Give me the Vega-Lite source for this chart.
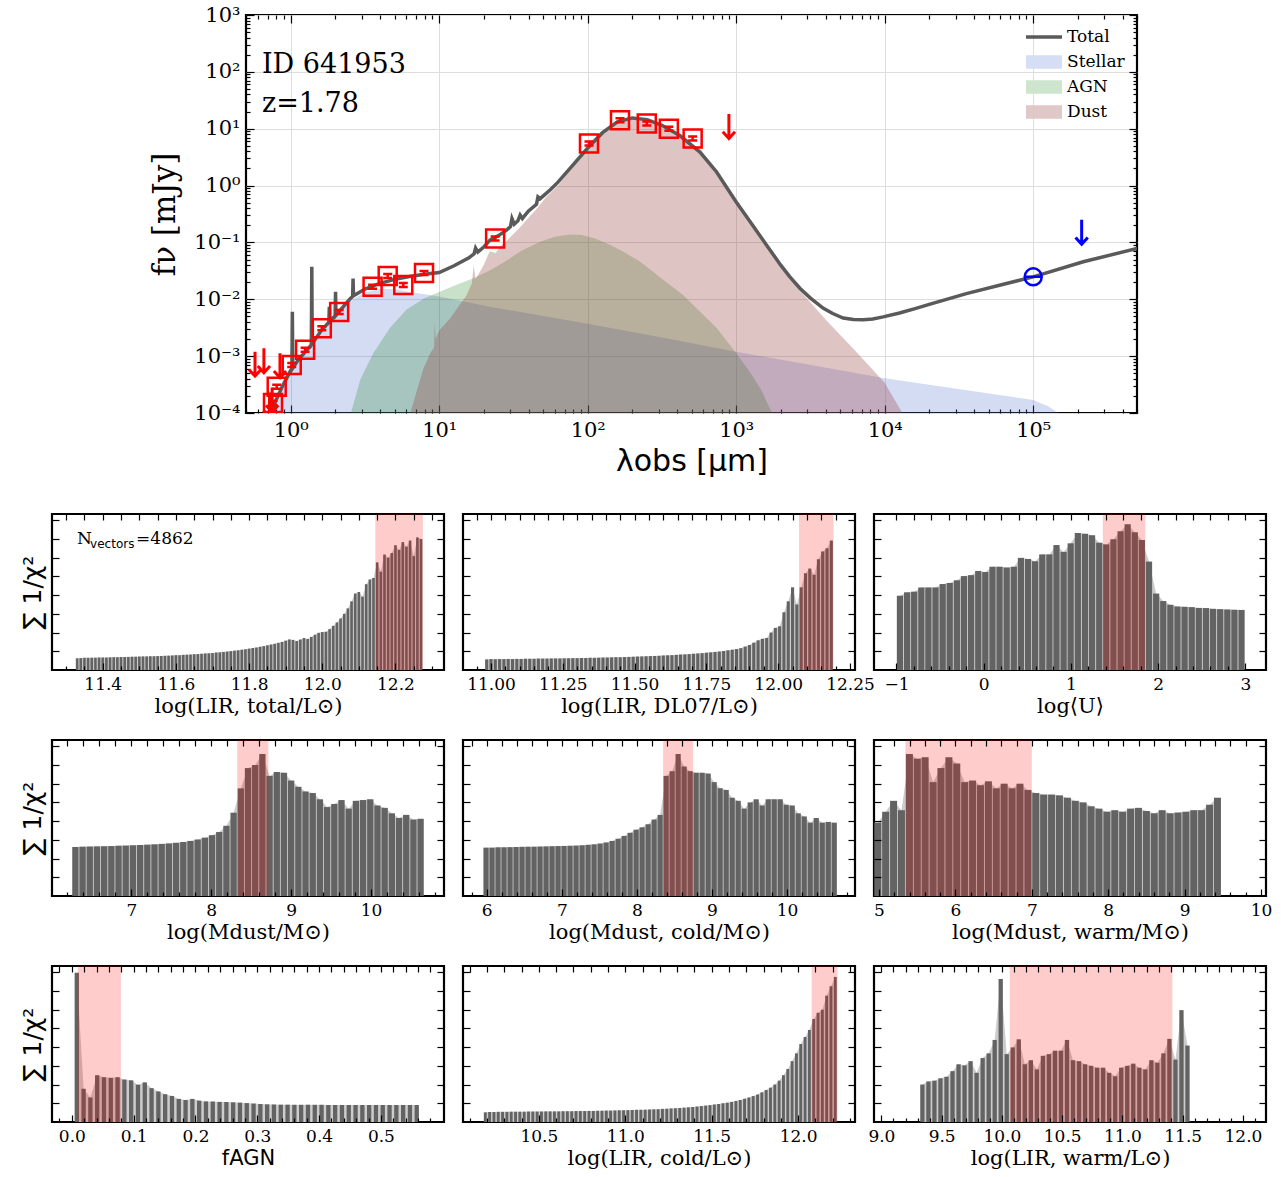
{
"$schema": "https://vega.github.io/schema/vega-lite/v6.json",
"padding": {"left": 19, "top": 2, "right": 5, "bottom": 2},
"background": "white",
"config": {
  "view": {"stroke": "#000000", "strokeWidth": 2.2},
  "axis": {"domain": false, "grid": false, "tickColor": "#000000", "tickWidth": 1.2, "labelColor": "#000000", "titleColor": "#000000", "labelFont": "DejaVu Serif", "titleFont": "DejaVu Serif", "titleFontWeight": "normal", "labelFlush": false, "labelOverlap": false}
},
"resolve": {"scale": {"color": "independent"}, "legend": {"color": "independent"}},
"datasets": {
  "stellar": [{"x":0.733,"y":0.0000891},{"x":0.794,"y":0.000166},{"x":0.891,"y":0.000316},{"x":1.0,"y":0.000562},{"x":1.122,"y":0.000832},{"x":1.259,"y":0.001175},{"x":1.413,"y":0.00174},{"x":1.585,"y":0.00263},{"x":1.995,"y":0.00501},{"x":2.512,"y":0.00955},{"x":3.162,"y":0.0132},{"x":3.981,"y":0.0151},{"x":5.012,"y":0.0151},{"x":6.31,"y":0.0135},{"x":7.943,"y":0.0123},{"x":10,"y":0.0112},{"x":21.88,"y":0.00741},{"x":100,"y":0.00372},{"x":263,"y":0.00234},{"x":1000,"y":0.0012},{"x":10000,"y":0.000407},{"x":100000,"y":0.00017},{"x":125900,"y":0.000132},{"x":158500,"y":0.0000891}],
  "agn": [{"x":2.512,"y":0.0000891},{"x":2.951,"y":0.000398},{"x":3.597,"y":0.001122},{"x":4.667,"y":0.00316},{"x":6.026,"y":0.00661},{"x":7.943,"y":0.01047},{"x":10,"y":0.01349},{"x":12.59,"y":0.01738},{"x":16.98,"y":0.02344},{"x":22.39,"y":0.0331},{"x":28.51,"y":0.0479},{"x":35.48,"y":0.0708},{"x":47.86,"y":0.1023},{"x":60.26,"y":0.1259},{"x":75.86,"y":0.138},{"x":91.2,"y":0.1349},{"x":112.2,"y":0.1175},{"x":141.3,"y":0.0912},{"x":173.8,"y":0.0684},{"x":223.9,"y":0.0468},{"x":291.7,"y":0.0269},{"x":354.8,"y":0.0182},{"x":440.6,"y":0.01175},{"x":562.3,"y":0.00631},{"x":741.3,"y":0.00309},{"x":955,"y":0.001318},{"x":1230,"y":0.000537},{"x":1479,"y":0.000251},{"x":1778,"y":0.0000891}],
  "dust": [{"x":6.31,"y":0.0000891},{"x":7.079,"y":0.000251},{"x":7.816,"y":0.000603},{"x":8.71,"y":0.001122},{"x":9.226,"y":0.001413},{"x":9.333,"y":0.00398},{"x":9.462,"y":0.002},{"x":10,"y":0.00282},{"x":11.83,"y":0.00457},{"x":14.13,"y":0.00891},{"x":15.31,"y":0.01175},{"x":16.6,"y":0.01905},{"x":17.06,"y":0.0398},{"x":17.58,"y":0.0224},{"x":19.95,"y":0.04},{"x":21.88,"y":0.07},{"x":23.99,"y":0.065},{"x":26.3,"y":0.09},{"x":28.84,"y":0.11},{"x":31.62,"y":0.14},{"x":34.67,"y":0.18},{"x":39.81,"y":0.27},{"x":45.71,"y":0.4},{"x":52.48,"y":0.63},{"x":63.1,"y":1.0},{"x":79.43,"y":2.1},{"x":100,"y":4.3},{"x":125.9,"y":8.3},{"x":158.5,"y":13.0},{"x":199.5,"y":15.3},{"x":251.2,"y":14.3},{"x":316.2,"y":11.4},{"x":416.9,"y":7.5},{"x":570.2,"y":3.8},{"x":738,"y":1.698},{"x":1000,"y":0.501},{"x":1585,"y":0.0891},{"x":2692,"y":0.01413},{"x":3981,"y":0.00447},{"x":6310,"y":0.00126},{"x":10000,"y":0.000339},{"x":13490,"y":0.0000891}],
  "total": [{"x":0.733,"y":0.0000891},{"x":0.794,"y":0.000166},{"x":0.891,"y":0.000316},{"x":1.0,"y":0.000562},{"x":1.019,"y":0.000589},{"x":1.026,"y":0.00603},{"x":1.033,"y":0.000617},{"x":1.122,"y":0.000851},{"x":1.259,"y":0.0012},{"x":1.377,"y":0.001585},{"x":1.387,"y":0.0372},{"x":1.396,"y":0.00166},{"x":1.585,"y":0.00269},{"x":1.807,"y":0.00398},{"x":1.82,"y":0.00741},{"x":1.832,"y":0.00407},{"x":1.991,"y":0.00513},{"x":2.004,"y":0.0135},{"x":2.018,"y":0.00525},{"x":2.239,"y":0.00724},{"x":2.512,"y":0.0102},{"x":2.612,"y":0.0112},{"x":2.63,"y":0.0232},{"x":2.649,"y":0.0115},{"x":3.162,"y":0.0151},{"x":3.981,"y":0.0191},{"x":5.012,"y":0.0224},{"x":6.31,"y":0.0251},{"x":7.943,"y":0.0275},{"x":10,"y":0.0295},{"x":12.59,"y":0.0389},{"x":15.85,"y":0.0537},{"x":17.18,"y":0.0631},{"x":17.58,"y":0.0794},{"x":18.2,"y":0.0676},{"x":19.95,"y":0.0832},{"x":21.98,"y":0.1096},{"x":25.12,"y":0.1318},{"x":28.51,"y":0.166},{"x":30.2,"y":0.1905},{"x":30.9,"y":0.263},{"x":31.99,"y":0.209},{"x":33.88,"y":0.24},{"x":35.08,"y":0.302},{"x":36.31,"y":0.263},{"x":39.81,"y":0.355},{"x":45.19,"y":0.468},{"x":46.24,"y":0.631},{"x":47.86,"y":0.589},{"x":56.23,"y":0.851},{"x":63.1,"y":1.148},{"x":79.43,"y":2.291},{"x":100,"y":4.571},{"x":125.9,"y":8.511},{"x":158.5,"y":13.18},{"x":199.5,"y":15.49},{"x":251.2,"y":14.45},{"x":316.2,"y":11.48},{"x":416.9,"y":7.586},{"x":570.2,"y":3.89},{"x":738,"y":1.738},{"x":1000,"y":0.513},{"x":1259,"y":0.2188},{"x":1585,"y":0.0933},{"x":1995,"y":0.0398},{"x":2291,"y":0.0251},{"x":2692,"y":0.0155},{"x":3162,"y":0.01047},{"x":3864,"y":0.00692},{"x":4467,"y":0.00562},{"x":5248,"y":0.00468},{"x":6166,"y":0.00442},{"x":7178,"y":0.00437},{"x":8318,"y":0.00452},{"x":9772,"y":0.0049},{"x":12590,"y":0.00575},{"x":16220,"y":0.00692},{"x":19950,"y":0.00813},{"x":35480,"y":0.0126},{"x":63100,"y":0.0184},{"x":100000,"y":0.0248},{"x":217300,"y":0.0457},{"x":501200,"y":0.0785}],
  "obs": [{"x":0.76,"y":0.00015},{"x":0.805,"y":0.00029},{"x":1.016,"y":0.0007},{"x":1.25,"y":0.0013},{"x":1.62,"y":0.0031},{"x":2.12,"y":0.006},{"x":3.56,"y":0.0166},{"x":4.5,"y":0.0257},{"x":5.73,"y":0.0178},{"x":7.9,"y":0.029},{"x":23.8,"y":0.117},{"x":102,"y":5.5},{"x":165,"y":14.1},{"x":250,"y":12.3},{"x":352,"y":10.0},{"x":509,"y":6.7}],
  "ulim": [{"x":0.575,"y":0.0012},{"x":0.66,"y":0.00138},{"x":0.847,"y":0.00112},{"x":0.72,"y":0.00023},{"x":0.75,"y":0.00028},{"x":893,"y":18.2}],
  "radio": [{"x":100000,"y":0.0248}],
  "radiolim": [{"x":212000,"y":0.25}],
  "p1": [{"x":11.33,"y":0.075},{"x":11.34,"y":0.076},{"x":11.35,"y":0.078},{"x":11.36,"y":0.078},{"x":11.37,"y":0.079},{"x":11.38,"y":0.079},{"x":11.39,"y":0.080},{"x":11.40,"y":0.080},{"x":11.41,"y":0.080},{"x":11.42,"y":0.081},{"x":11.43,"y":0.082},{"x":11.44,"y":0.082},{"x":11.45,"y":0.083},{"x":11.46,"y":0.083},{"x":11.47,"y":0.084},{"x":11.48,"y":0.085},{"x":11.49,"y":0.085},{"x":11.50,"y":0.086},{"x":11.51,"y":0.087},{"x":11.52,"y":0.087},{"x":11.53,"y":0.088},{"x":11.54,"y":0.088},{"x":11.55,"y":0.089},{"x":11.56,"y":0.090},{"x":11.57,"y":0.091},{"x":11.58,"y":0.092},{"x":11.59,"y":0.093},{"x":11.60,"y":0.095},{"x":11.61,"y":0.095},{"x":11.62,"y":0.097},{"x":11.63,"y":0.098},{"x":11.64,"y":0.099},{"x":11.65,"y":0.101},{"x":11.66,"y":0.102},{"x":11.67,"y":0.104},{"x":11.68,"y":0.106},{"x":11.69,"y":0.107},{"x":11.70,"y":0.109},{"x":11.71,"y":0.112},{"x":11.72,"y":0.113},{"x":11.73,"y":0.116},{"x":11.74,"y":0.118},{"x":11.75,"y":0.121},{"x":11.76,"y":0.124},{"x":11.77,"y":0.126},{"x":11.78,"y":0.130},{"x":11.79,"y":0.133},{"x":11.80,"y":0.137},{"x":11.81,"y":0.141},{"x":11.82,"y":0.144},{"x":11.83,"y":0.149},{"x":11.84,"y":0.153},{"x":11.85,"y":0.158},{"x":11.86,"y":0.163},{"x":11.87,"y":0.168},{"x":11.88,"y":0.174},{"x":11.89,"y":0.180},{"x":11.90,"y":0.188},{"x":11.91,"y":0.196},{"x":11.92,"y":0.193},{"x":11.93,"y":0.186},{"x":11.94,"y":0.195},{"x":11.95,"y":0.205},{"x":11.96,"y":0.199},{"x":11.97,"y":0.212},{"x":11.98,"y":0.226},{"x":11.99,"y":0.238},{"x":12.00,"y":0.243},{"x":12.01,"y":0.245},{"x":12.02,"y":0.262},{"x":12.03,"y":0.283},{"x":12.04,"y":0.305},{"x":12.05,"y":0.33},{"x":12.06,"y":0.36},{"x":12.07,"y":0.395},{"x":12.08,"y":0.44},{"x":12.09,"y":0.49},{"x":12.10,"y":0.50},{"x":12.11,"y":0.47},{"x":12.12,"y":0.55},{"x":12.13,"y":0.58},{"x":12.14,"y":0.59},{"x":12.15,"y":0.69},{"x":12.16,"y":0.63},{"x":12.17,"y":0.74},{"x":12.18,"y":0.72},{"x":12.19,"y":0.75},{"x":12.20,"y":0.80},{"x":12.21,"y":0.77},{"x":12.22,"y":0.82},{"x":12.23,"y":0.79},{"x":12.24,"y":0.83},{"x":12.25,"y":0.73},{"x":12.26,"y":0.85},{"x":12.27,"y":0.84}],
  "p2": [{"x":10.985,"y":0.068},{"x":11.0,"y":0.070},{"x":11.015,"y":0.069},{"x":11.03,"y":0.070},{"x":11.045,"y":0.070},{"x":11.06,"y":0.071},{"x":11.075,"y":0.070},{"x":11.09,"y":0.071},{"x":11.105,"y":0.071},{"x":11.12,"y":0.072},{"x":11.135,"y":0.072},{"x":11.15,"y":0.072},{"x":11.165,"y":0.073},{"x":11.18,"y":0.073},{"x":11.195,"y":0.073},{"x":11.21,"y":0.074},{"x":11.225,"y":0.074},{"x":11.24,"y":0.074},{"x":11.255,"y":0.075},{"x":11.27,"y":0.075},{"x":11.285,"y":0.076},{"x":11.3,"y":0.076},{"x":11.315,"y":0.077},{"x":11.33,"y":0.077},{"x":11.345,"y":0.078},{"x":11.36,"y":0.078},{"x":11.375,"y":0.079},{"x":11.39,"y":0.080},{"x":11.405,"y":0.080},{"x":11.42,"y":0.081},{"x":11.435,"y":0.082},{"x":11.45,"y":0.082},{"x":11.465,"y":0.083},{"x":11.48,"y":0.084},{"x":11.495,"y":0.085},{"x":11.51,"y":0.086},{"x":11.525,"y":0.087},{"x":11.54,"y":0.088},{"x":11.555,"y":0.089},{"x":11.57,"y":0.090},{"x":11.585,"y":0.091},{"x":11.6,"y":0.093},{"x":11.615,"y":0.094},{"x":11.63,"y":0.095},{"x":11.645,"y":0.097},{"x":11.66,"y":0.099},{"x":11.675,"y":0.100},{"x":11.69,"y":0.102},{"x":11.705,"y":0.104},{"x":11.72,"y":0.106},{"x":11.735,"y":0.108},{"x":11.75,"y":0.111},{"x":11.765,"y":0.113},{"x":11.78,"y":0.116},{"x":11.795,"y":0.119},{"x":11.81,"y":0.122},{"x":11.825,"y":0.126},{"x":11.84,"y":0.130},{"x":11.855,"y":0.134},{"x":11.87,"y":0.14},{"x":11.885,"y":0.15},{"x":11.9,"y":0.16},{"x":11.915,"y":0.175},{"x":11.93,"y":0.19},{"x":11.945,"y":0.20},{"x":11.96,"y":0.205},{"x":11.975,"y":0.24},{"x":11.99,"y":0.27},{"x":12.005,"y":0.28},{"x":12.02,"y":0.37},{"x":12.035,"y":0.44},{"x":12.05,"y":0.53},{"x":12.065,"y":0.42},{"x":12.08,"y":0.53},{"x":12.095,"y":0.62},{"x":12.11,"y":0.65},{"x":12.125,"y":0.61},{"x":12.14,"y":0.71},{"x":12.155,"y":0.76},{"x":12.17,"y":0.78},{"x":12.185,"y":0.83}],
  "p3": [{"x":-0.96,"y":0.476},{"x":-0.878,"y":0.498},{"x":-0.797,"y":0.502},{"x":-0.715,"y":0.529},{"x":-0.634,"y":0.529},{"x":-0.552,"y":0.529},{"x":-0.47,"y":0.551},{"x":-0.389,"y":0.558},{"x":-0.307,"y":0.575},{"x":-0.226,"y":0.602},{"x":-0.144,"y":0.608},{"x":-0.062,"y":0.635},{"x":0.019,"y":0.628},{"x":0.101,"y":0.662},{"x":0.182,"y":0.662},{"x":0.264,"y":0.657},{"x":0.346,"y":0.662},{"x":0.427,"y":0.719},{"x":0.509,"y":0.712},{"x":0.59,"y":0.697},{"x":0.672,"y":0.741},{"x":0.754,"y":0.741},{"x":0.835,"y":0.801},{"x":0.917,"y":0.757},{"x":0.998,"y":0.812},{"x":1.08,"y":0.878},{"x":1.162,"y":0.874},{"x":1.243,"y":0.863},{"x":1.325,"y":0.816},{"x":1.406,"y":0.805},{"x":1.488,"y":0.838},{"x":1.57,"y":0.889},{"x":1.651,"y":0.934},{"x":1.733,"y":0.883},{"x":1.814,"y":0.834},{"x":1.896,"y":0.695},{"x":1.978,"y":0.49},{"x":2.059,"y":0.442},{"x":2.141,"y":0.418},{"x":2.222,"y":0.407},{"x":2.304,"y":0.405},{"x":2.386,"y":0.403},{"x":2.467,"y":0.398},{"x":2.549,"y":0.397},{"x":2.63,"y":0.392},{"x":2.712,"y":0.39},{"x":2.794,"y":0.388},{"x":2.875,"y":0.386},{"x":2.957,"y":0.385}],
  "p4": [{"x":6.30,"y":0.314},{"x":6.39,"y":0.316},{"x":6.48,"y":0.317},{"x":6.57,"y":0.318},{"x":6.66,"y":0.319},{"x":6.75,"y":0.320},{"x":6.84,"y":0.322},{"x":6.93,"y":0.323},{"x":7.02,"y":0.325},{"x":7.11,"y":0.327},{"x":7.20,"y":0.329},{"x":7.29,"y":0.331},{"x":7.38,"y":0.334},{"x":7.47,"y":0.337},{"x":7.56,"y":0.341},{"x":7.65,"y":0.346},{"x":7.74,"y":0.353},{"x":7.83,"y":0.362},{"x":7.92,"y":0.374},{"x":8.01,"y":0.39},{"x":8.10,"y":0.41},{"x":8.19,"y":0.45},{"x":8.28,"y":0.534},{"x":8.37,"y":0.69},{"x":8.46,"y":0.82},{"x":8.55,"y":0.84},{"x":8.64,"y":0.91},{"x":8.73,"y":0.77},{"x":8.82,"y":0.795},{"x":8.91,"y":0.79},{"x":9.00,"y":0.74},{"x":9.09,"y":0.70},{"x":9.18,"y":0.67},{"x":9.27,"y":0.66},{"x":9.36,"y":0.62},{"x":9.45,"y":0.57},{"x":9.54,"y":0.59},{"x":9.63,"y":0.615},{"x":9.72,"y":0.56},{"x":9.81,"y":0.61},{"x":9.90,"y":0.615},{"x":9.99,"y":0.62},{"x":10.08,"y":0.58},{"x":10.17,"y":0.565},{"x":10.26,"y":0.53},{"x":10.35,"y":0.50},{"x":10.44,"y":0.52},{"x":10.53,"y":0.49},{"x":10.62,"y":0.495}],
  "p5": [{"x":5.99,"y":0.31},{"x":6.07,"y":0.31},{"x":6.15,"y":0.312},{"x":6.23,"y":0.312},{"x":6.31,"y":0.313},{"x":6.39,"y":0.314},{"x":6.47,"y":0.315},{"x":6.55,"y":0.316},{"x":6.63,"y":0.316},{"x":6.71,"y":0.317},{"x":6.79,"y":0.318},{"x":6.87,"y":0.319},{"x":6.95,"y":0.320},{"x":7.03,"y":0.321},{"x":7.11,"y":0.322},{"x":7.19,"y":0.323},{"x":7.27,"y":0.325},{"x":7.35,"y":0.328},{"x":7.43,"y":0.331},{"x":7.51,"y":0.336},{"x":7.59,"y":0.343},{"x":7.67,"y":0.353},{"x":7.75,"y":0.367},{"x":7.83,"y":0.385},{"x":7.91,"y":0.405},{"x":7.99,"y":0.425},{"x":8.07,"y":0.44},{"x":8.15,"y":0.46},{"x":8.23,"y":0.49},{"x":8.31,"y":0.52},{"x":8.39,"y":0.77},{"x":8.47,"y":0.80},{"x":8.55,"y":0.91},{"x":8.63,"y":0.83},{"x":8.71,"y":0.80},{"x":8.79,"y":0.79},{"x":8.87,"y":0.79},{"x":8.95,"y":0.785},{"x":9.03,"y":0.73},{"x":9.11,"y":0.69},{"x":9.19,"y":0.68},{"x":9.27,"y":0.63},{"x":9.35,"y":0.61},{"x":9.43,"y":0.56},{"x":9.51,"y":0.60},{"x":9.59,"y":0.62},{"x":9.67,"y":0.58},{"x":9.75,"y":0.62},{"x":9.83,"y":0.62},{"x":9.91,"y":0.62},{"x":9.99,"y":0.585},{"x":10.07,"y":0.58},{"x":10.15,"y":0.53},{"x":10.23,"y":0.51},{"x":10.31,"y":0.47},{"x":10.39,"y":0.50},{"x":10.47,"y":0.47},{"x":10.55,"y":0.475},{"x":10.63,"y":0.47}],
  "p6": [{"x":4.984,"y":0.47},{"x":5.087,"y":0.54},{"x":5.191,"y":0.61},{"x":5.294,"y":0.55},{"x":5.398,"y":0.91},{"x":5.501,"y":0.88},{"x":5.604,"y":0.89},{"x":5.708,"y":0.73},{"x":5.811,"y":0.82},{"x":5.915,"y":0.89},{"x":6.018,"y":0.85},{"x":6.121,"y":0.73},{"x":6.225,"y":0.74},{"x":6.328,"y":0.71},{"x":6.432,"y":0.735},{"x":6.535,"y":0.69},{"x":6.638,"y":0.72},{"x":6.742,"y":0.69},{"x":6.845,"y":0.72},{"x":6.949,"y":0.68},{"x":7.052,"y":0.66},{"x":7.155,"y":0.65},{"x":7.259,"y":0.65},{"x":7.362,"y":0.645},{"x":7.466,"y":0.63},{"x":7.569,"y":0.61},{"x":7.672,"y":0.60},{"x":7.776,"y":0.575},{"x":7.879,"y":0.56},{"x":7.983,"y":0.54},{"x":8.086,"y":0.55},{"x":8.189,"y":0.54},{"x":8.293,"y":0.56},{"x":8.396,"y":0.565},{"x":8.5,"y":0.545},{"x":8.603,"y":0.53},{"x":8.706,"y":0.55},{"x":8.81,"y":0.53},{"x":8.913,"y":0.535},{"x":9.017,"y":0.54},{"x":9.12,"y":0.55},{"x":9.223,"y":0.55},{"x":9.327,"y":0.585},{"x":9.43,"y":0.63}],
  "p7": [{"x":0.008,"y":0.957},{"x":0.019,"y":0.213},{"x":0.030,"y":0.157},{"x":0.041,"y":0.30},{"x":0.052,"y":0.287},{"x":0.063,"y":0.283},{"x":0.074,"y":0.287},{"x":0.085,"y":0.272},{"x":0.096,"y":0.267},{"x":0.107,"y":0.239},{"x":0.118,"y":0.254},{"x":0.129,"y":0.217},{"x":0.140,"y":0.196},{"x":0.151,"y":0.178},{"x":0.162,"y":0.167},{"x":0.173,"y":0.148},{"x":0.184,"y":0.141},{"x":0.195,"y":0.148},{"x":0.206,"y":0.137},{"x":0.217,"y":0.132},{"x":0.228,"y":0.131},{"x":0.239,"y":0.129},{"x":0.250,"y":0.128},{"x":0.261,"y":0.126},{"x":0.272,"y":0.124},{"x":0.283,"y":0.121},{"x":0.294,"y":0.118},{"x":0.305,"y":0.115},{"x":0.316,"y":0.113},{"x":0.327,"y":0.112},{"x":0.338,"y":0.111},{"x":0.349,"y":0.111},{"x":0.360,"y":0.110},{"x":0.371,"y":0.110},{"x":0.382,"y":0.110},{"x":0.393,"y":0.110},{"x":0.404,"y":0.110},{"x":0.415,"y":0.109},{"x":0.426,"y":0.109},{"x":0.437,"y":0.109},{"x":0.448,"y":0.109},{"x":0.459,"y":0.109},{"x":0.470,"y":0.109},{"x":0.481,"y":0.109},{"x":0.492,"y":0.109},{"x":0.503,"y":0.109},{"x":0.514,"y":0.109},{"x":0.525,"y":0.109},{"x":0.536,"y":0.109},{"x":0.547,"y":0.109},{"x":0.558,"y":0.109}],
  "p8": [{"x":10.19,"y":0.062},{"x":10.215,"y":0.064},{"x":10.24,"y":0.064},{"x":10.265,"y":0.065},{"x":10.29,"y":0.065},{"x":10.315,"y":0.065},{"x":10.34,"y":0.066},{"x":10.365,"y":0.066},{"x":10.39,"y":0.066},{"x":10.415,"y":0.066},{"x":10.44,"y":0.067},{"x":10.465,"y":0.067},{"x":10.49,"y":0.067},{"x":10.515,"y":0.067},{"x":10.54,"y":0.068},{"x":10.565,"y":0.068},{"x":10.59,"y":0.068},{"x":10.615,"y":0.068},{"x":10.64,"y":0.069},{"x":10.665,"y":0.069},{"x":10.69,"y":0.069},{"x":10.715,"y":0.070},{"x":10.74,"y":0.070},{"x":10.765,"y":0.070},{"x":10.79,"y":0.071},{"x":10.815,"y":0.071},{"x":10.84,"y":0.072},{"x":10.865,"y":0.072},{"x":10.89,"y":0.073},{"x":10.915,"y":0.073},{"x":10.94,"y":0.074},{"x":10.965,"y":0.075},{"x":10.99,"y":0.075},{"x":11.015,"y":0.076},{"x":11.04,"y":0.077},{"x":11.065,"y":0.078},{"x":11.09,"y":0.078},{"x":11.115,"y":0.079},{"x":11.14,"y":0.080},{"x":11.165,"y":0.081},{"x":11.19,"y":0.082},{"x":11.215,"y":0.084},{"x":11.24,"y":0.085},{"x":11.265,"y":0.087},{"x":11.29,"y":0.088},{"x":11.315,"y":0.090},{"x":11.34,"y":0.092},{"x":11.365,"y":0.094},{"x":11.39,"y":0.096},{"x":11.415,"y":0.099},{"x":11.44,"y":0.102},{"x":11.465,"y":0.105},{"x":11.49,"y":0.108},{"x":11.515,"y":0.112},{"x":11.54,"y":0.116},{"x":11.565,"y":0.120},{"x":11.59,"y":0.124},{"x":11.615,"y":0.129},{"x":11.64,"y":0.135},{"x":11.665,"y":0.141},{"x":11.69,"y":0.149},{"x":11.715,"y":0.157},{"x":11.74,"y":0.166},{"x":11.765,"y":0.176},{"x":11.79,"y":0.19},{"x":11.815,"y":0.205},{"x":11.84,"y":0.22},{"x":11.865,"y":0.24},{"x":11.89,"y":0.265},{"x":11.915,"y":0.30},{"x":11.94,"y":0.34},{"x":11.965,"y":0.39},{"x":11.99,"y":0.44},{"x":12.015,"y":0.50},{"x":12.04,"y":0.545},{"x":12.065,"y":0.59},{"x":12.09,"y":0.66},{"x":12.115,"y":0.70},{"x":12.14,"y":0.72},{"x":12.165,"y":0.81},{"x":12.19,"y":0.87},{"x":12.215,"y":0.93}],
  "p9": [{"x":9.34,"y":0.24},{"x":9.39,"y":0.26},{"x":9.44,"y":0.265},{"x":9.49,"y":0.28},{"x":9.54,"y":0.29},{"x":9.59,"y":0.326},{"x":9.64,"y":0.37},{"x":9.69,"y":0.363},{"x":9.74,"y":0.39},{"x":9.79,"y":0.315},{"x":9.84,"y":0.41},{"x":9.89,"y":0.44},{"x":9.94,"y":0.526},{"x":9.99,"y":0.917},{"x":10.04,"y":0.435},{"x":10.09,"y":0.478},{"x":10.14,"y":0.53},{"x":10.19,"y":0.37},{"x":10.24,"y":0.396},{"x":10.29,"y":0.337},{"x":10.34,"y":0.424},{"x":10.39,"y":0.435},{"x":10.44,"y":0.457},{"x":10.49,"y":0.457},{"x":10.54,"y":0.526},{"x":10.59,"y":0.396},{"x":10.64,"y":0.39},{"x":10.69,"y":0.37},{"x":10.74,"y":0.36},{"x":10.79,"y":0.348},{"x":10.84,"y":0.348},{"x":10.89,"y":0.315},{"x":10.94,"y":0.293},{"x":10.99,"y":0.348},{"x":11.04,"y":0.36},{"x":11.09,"y":0.374},{"x":11.14,"y":0.348},{"x":11.19,"y":0.337},{"x":11.24,"y":0.396},{"x":11.29,"y":0.38},{"x":11.34,"y":0.44},{"x":11.39,"y":0.533},{"x":11.44,"y":0.40},{"x":11.49,"y":0.717},{"x":11.54,"y":0.49}]
},
"spacing": 34,
"vconcat": [
  {
    "spacing": 0,
    "resolve": {"scale": {"color": "independent"}, "legend": {"color": "independent"}},
    "hconcat": [
      {"width": 96, "height": 10, "data": {"values": []}, "mark": {"type": "point", "opacity": 0}, "view": {"stroke": null}},
      {
        "width": 891, "height": 398,
        "layer": [
          {"data": {"name": "stellar"}, "mark": {"type": "area", "color": "#5373d3", "fillOpacity": 0.25, "clip": true},
           "encoding": {
             "x": {"field": "x", "type": "quantitative", "scale": {"type": "log", "domain": [0.5, 500000], "nice": false},
               "axis": {"orient": "bottom", "values": [1,10,100,1000,10000,100000], "labelExpr": "'10' + (datum.value < 1.5 ? '⁰' : datum.value < 15 ? '¹' : datum.value < 150 ? '²' : datum.value < 1500 ? '³' : datum.value < 15000 ? '⁴' : '⁵')", "grid": true, "gridColor": "#dddddd", "gridWidth": 1, "tickSize": -8, "labelPadding": 14, "labelFontSize": 21, "title": "λobs [μm]", "titleFont": "DejaVu Sans", "titleFontSize": 30, "titlePadding": 6}},
             "y": {"field": "y", "type": "quantitative", "scale": {"type": "log", "domain": [0.0001, 1000], "nice": false},
               "axis": {"orient": "left", "values": [0.0001,0.001,0.01,0.1,1,10,100,1000], "labelExpr": "'10' + (datum.value < 0.0002 ? '⁻⁴' : datum.value < 0.002 ? '⁻³' : datum.value < 0.02 ? '⁻²' : datum.value < 0.2 ? '⁻¹' : datum.value < 2 ? '⁰' : datum.value < 20 ? '¹' : datum.value < 200 ? '²' : '³')", "grid": true, "gridColor": "#dddddd", "gridWidth": 1, "tickSize": -8, "labelPadding": 14, "labelFontSize": 21, "title": "fν [mJy]", "titleFontSize": 31, "titlePadding": 12}},
             "y2": {"datum": 0.0001}
           }},
          {"data": {"name": "agn"}, "mark": {"type": "area", "color": "#057705", "fillOpacity": 0.22, "clip": true},
           "encoding": {
             "x": {"field": "x", "type": "quantitative", "axis": {"orient": "bottom", "values": [0.5,0.6,0.7,0.8,0.9,2,3,4,5,6,7,8,9,20,30,40,50,60,70,80,90,200,300,400,500,600,700,800,900,2000,3000,4000,5000,6000,7000,8000,9000,20000,30000,40000,50000,60000,70000,80000,90000,200000,300000,400000,500000], "labels": false, "title": null, "tickSize": -4}},
             "y": {"field": "y", "type": "quantitative", "axis": {"orient": "left", "values": [0.0002,0.0003,0.0004,0.0005,0.0006,0.0007,0.0008,0.0009,0.002,0.003,0.004,0.005,0.006,0.007,0.008,0.009,0.02,0.03,0.04,0.05,0.06,0.07,0.08,0.09,0.2,0.3,0.4,0.5,0.6,0.7,0.8,0.9,2,3,4,5,6,7,8,9,20,30,40,50,60,70,80,90,200,300,400,500,600,700,800,900], "labels": false, "title": null, "tickSize": -4}},
             "y2": {"datum": 0.0001}
           }},
          {"data": {"name": "dust"}, "mark": {"type": "area", "color": "#943a3a", "fillOpacity": 0.3, "clip": true},
           "encoding": {
             "x": {"field": "x", "type": "quantitative", "axis": {"orient": "top", "values": [1,10,100,1000,10000,100000], "labels": false, "title": null, "tickSize": -8}},
             "y": {"field": "y", "type": "quantitative", "axis": {"orient": "right", "values": [0.0001,0.001,0.01,0.1,1,10,100,1000], "labels": false, "title": null, "tickSize": -8}},
             "y2": {"datum": 0.0001}
           }},
          {"data": {"name": "total"}, "mark": {"type": "line", "color": "#5a5a5a", "strokeWidth": 3.5, "clip": true},
           "encoding": {
             "x": {"field": "x", "type": "quantitative", "axis": {"orient": "top", "values": [0.5,0.6,0.7,0.8,0.9,2,3,4,5,6,7,8,9,20,30,40,50,60,70,80,90,200,300,400,500,600,700,800,900,2000,3000,4000,5000,6000,7000,8000,9000,20000,30000,40000,50000,60000,70000,80000,90000,200000,300000,400000,500000], "labels": false, "title": null, "tickSize": -4}},
             "y": {"field": "y", "type": "quantitative", "axis": {"orient": "right", "values": [0.0002,0.0003,0.0004,0.0005,0.0006,0.0007,0.0008,0.0009,0.002,0.003,0.004,0.005,0.006,0.007,0.008,0.009,0.02,0.03,0.04,0.05,0.06,0.07,0.08,0.09,0.2,0.3,0.4,0.5,0.6,0.7,0.8,0.9,2,3,4,5,6,7,8,9,20,30,40,50,60,70,80,90,200,300,400,500,600,700,800,900], "labels": false, "title": null, "tickSize": -4}}
           }},
          {"data": {"values": []}, "mark": {"type": "point", "filled": true, "opacity": 1},
           "encoding": {
             "x": {"field": "x", "type": "quantitative", "axis": null},
             "y": {"field": "y", "type": "quantitative", "axis": null},
             "color": {"field": "comp", "type": "nominal",
               "scale": {"domain": ["Total", "Stellar", "AGN", "Dust"], "range": ["#5a5a5a", "#d6def5", "#cde4cd", "#e1c8c8"]},
               "legend": {"orient": "top-right", "title": null, "offset": 12, "padding": 0, "rowPadding": 7, "labelFont": "DejaVu Serif", "labelFontSize": 17, "labelColor": "#000000", "labelOffset": 13, "symbolSize": 400, "symbolType": "M-1.8,-0.68H1.8V0.68H-1.8Z", "symbolOpacity": 1, "symbolStrokeWidth": 0,
                 "encode": {"symbols": {"update": {
                   "shape": {"signal": "datum.value === 'Total' ? 'M-1.8,-0.18H1.8V0.18H-1.8Z' : 'M-1.8,-0.68H1.8V0.68H-1.8Z'"},
                   "opacity": {"value": 1}}}}}}
           }},
          {"data": {"name": "obs"}, "mark": {"type": "point", "shape": "M-1,-1H1V1H-1ZM-0.5,-0.22H0.5M-0.5,0.22H0.5M0,-0.22V0.22", "filled": false, "color": "#ff0000", "strokeWidth": 2.5, "size": 324, "opacity": 1, "clip": true},
           "encoding": {"x": {"field": "x", "type": "quantitative", "axis": null}, "y": {"field": "y", "type": "quantitative", "axis": null}}},
          {"data": {"name": "ulim"}, "mark": {"type": "point", "shape": "M0,0L0,2M-0.5,1.45L0,2L0.5,1.45", "filled": false, "color": "#ff0000", "strokeWidth": 3, "size": 600, "opacity": 1, "clip": true},
           "encoding": {"x": {"field": "x", "type": "quantitative", "axis": null}, "y": {"field": "y", "type": "quantitative", "axis": null}}},
          {"data": {"name": "radio"}, "mark": {"type": "point", "shape": "M1,0A1,1,0,1,1,-1,0A1,1,0,1,1,1,0ZM-1,0H1", "filled": false, "color": "#0000ff", "strokeWidth": 2.5, "size": 290, "opacity": 1},
           "encoding": {"x": {"field": "x", "type": "quantitative", "axis": null}, "y": {"field": "y", "type": "quantitative", "axis": null}}},
          {"data": {"name": "radiolim"}, "mark": {"type": "point", "shape": "M0,0L0,2M-0.5,1.45L0,2L0.5,1.45", "filled": false, "color": "#0000ff", "strokeWidth": 3, "size": 600, "opacity": 1},
           "encoding": {"x": {"field": "x", "type": "quantitative", "axis": null}, "y": {"field": "y", "type": "quantitative", "axis": null}}},
          {"data": {"values": [{}]}, "mark": {"type": "text", "text": "ID 641953", "align": "left", "baseline": "middle", "font": "DejaVu Serif", "fontSize": 27, "color": "#000000"},
           "encoding": {"x": {"datum": 0.64, "type": "quantitative", "axis": null}, "y": {"datum": 132, "type": "quantitative", "axis": null}}},
          {"data": {"values": [{}]}, "mark": {"type": "text", "text": "z=1.78", "align": "left", "baseline": "middle", "font": "DejaVu Serif", "fontSize": 27, "color": "#000000"},
           "encoding": {"x": {"datum": 0.64, "type": "quantitative", "axis": null}, "y": {"datum": 27.3, "type": "quantitative", "axis": null}}}
        ],
        "resolve": {"axis": {"x": "independent", "y": "independent"}}
      }
    ]
  },
  {
    "spacing": 20,
    "vconcat": [
      {"hconcat": [
        {"width": 392, "height": 156,
         "layer": [
          {"data": {"name": "p1"}, "mark": {"type": "area", "color": "#cccccc", "clip": true},
           "encoding": {
            "x": {"field": "x", "type": "quantitative", "scale": {"domain": [11.275, 12.319], "nice": false, "zero": false},
              "axis": {"orient": "bottom", "values": [11.4,11.6,11.8,12.0,12.2], "format": ".1f", "tickSize": -7, "labelPadding": 13, "labelFontSize": 17, "title": "log(LIR, total/L⊙)", "titleFontSize": 21, "titlePadding": 3, "zindex": 1}},
            "y": {"field": "y", "type": "quantitative", "scale": {"domain": [0, 1], "nice": false},
              "axis": {"orient": "left", "values": [0.12,0.24,0.36,0.48,0.6,0.72,0.84,0.96], "labels": false, "tickSize": -7, "title": "∑ 1/χ²", "titleFont": "DejaVu Sans", "titleFontSize": 25, "titlePadding": 6, "zindex": 1}}}},
          {"data": {"name": "p1"}, "mark": {"type": "bar", "color": "#636363", "size": 2.6, "orient": "vertical", "clip": true},
           "encoding": {
            "x": {"field": "x", "type": "quantitative", "axis": {"orient": "bottom", "values": [11.3,11.35,11.45,11.5,11.55,11.65,11.7,11.75,11.85,11.9,11.95,12.05,12.1,12.15,12.25,12.3], "labels": false, "title": null, "tickSize": -4, "zindex": 1}},
            "y": {"field": "y", "type": "quantitative", "axis": {"orient": "right", "values": [0.12,0.24,0.36,0.48,0.6,0.72,0.84,0.96], "labels": false, "title": null, "tickSize": -7, "zindex": 1}}}},
          {"data": {"values": [{"lo": 12.145, "hi": 12.275}]}, "mark": {"type": "rect", "color": "#ff0000", "opacity": 0.2},
           "encoding": {
            "x": {"field": "lo", "type": "quantitative", "axis": {"orient": "top", "values": [11.3,11.35,11.4,11.45,11.5,11.55,11.6,11.65,11.7,11.75,11.8,11.85,11.9,11.95,12.0,12.05,12.1,12.15,12.2,12.25,12.3], "labels": false, "title": null, "tickSize": -6, "zindex": 1}},
            "x2": {"field": "hi"},
            "y": {"datum": 0, "type": "quantitative", "axis": null}, "y2": {"datum": 1}}},
          {"data": {"values": [{}]}, "mark": {"type": "text", "text": "N", "align": "left", "baseline": "middle", "font": "DejaVu Serif", "fontSize": 17, "color": "#000000"},
           "encoding": {"x": {"datum": 11.33, "type": "quantitative", "axis": null}, "y": {"datum": 0.84, "type": "quantitative", "axis": null}}},
          {"data": {"values": [{}]}, "mark": {"type": "text", "text": "vectors", "align": "left", "baseline": "middle", "font": "DejaVu Sans", "fontSize": 12, "dx": 13, "dy": 5, "color": "#000000"},
           "encoding": {"x": {"datum": 11.33, "type": "quantitative", "axis": null}, "y": {"datum": 0.84, "type": "quantitative", "axis": null}}},
          {"data": {"values": [{}]}, "mark": {"type": "text", "text": "=4862", "align": "left", "baseline": "middle", "font": "DejaVu Serif", "fontSize": 17, "dx": 59, "color": "#000000"},
           "encoding": {"x": {"datum": 11.33, "type": "quantitative", "axis": null}, "y": {"datum": 0.84, "type": "quantitative", "axis": null}}}
         ],
         "resolve": {"axis": {"x": "independent", "y": "independent"}}},
        {"width": 392, "height": 156,
         "layer": [
          {"data": {"name": "p2"}, "mark": {"type": "area", "color": "#cccccc", "clip": true},
           "encoding": {
            "x": {"field": "x", "type": "quantitative", "scale": {"domain": [10.92, 12.25], "nice": false, "zero": false},
              "axis": {"orient": "bottom", "values": [11.0,11.25,11.5,11.75,12.0,12.25], "format": ".2f", "tickSize": -7, "labelPadding": 13, "labelFontSize": 17, "title": "log(LIR, DL07/L⊙)", "titleFontSize": 21, "titlePadding": 3, "zindex": 1}},
            "y": {"field": "y", "type": "quantitative", "scale": {"domain": [0, 1], "nice": false},
              "axis": {"orient": "left", "values": [0.12,0.24,0.36,0.48,0.6,0.72,0.84,0.96], "labels": false, "tickSize": -7, "title": null, "zindex": 1}}}},
          {"data": {"name": "p2"}, "mark": {"type": "bar", "color": "#636363", "size": 3.1, "orient": "vertical", "clip": true},
           "encoding": {
            "x": {"field": "x", "type": "quantitative", "axis": {"orient": "bottom", "values": [10.95,11.05,11.1,11.15,11.2,11.3,11.35,11.4,11.45,11.55,11.6,11.65,11.7,11.8,11.85,11.9,11.95,12.05,12.1,12.15,12.2], "labels": false, "title": null, "tickSize": -4, "zindex": 1}},
            "y": {"field": "y", "type": "quantitative", "axis": {"orient": "right", "values": [0.12,0.24,0.36,0.48,0.6,0.72,0.84,0.96], "labels": false, "title": null, "tickSize": -7, "zindex": 1}}}},
          {"data": {"values": [{"lo": 12.0725, "hi": 12.1925}]}, "mark": {"type": "rect", "color": "#ff0000", "opacity": 0.2},
           "encoding": {
            "x": {"field": "lo", "type": "quantitative", "axis": {"orient": "top", "values": [10.95,11.0,11.05,11.1,11.15,11.2,11.25,11.3,11.35,11.4,11.45,11.5,11.55,11.6,11.65,11.7,11.75,11.8,11.85,11.9,11.95,12.0,12.05,12.1,12.15,12.2], "labels": false, "title": null, "tickSize": -6, "zindex": 1}},
            "x2": {"field": "hi"},
            "y": {"datum": 0, "type": "quantitative", "axis": null}, "y2": {"datum": 1}}}
         ],
         "resolve": {"axis": {"x": "independent", "y": "independent"}}},
        {"width": 392, "height": 156,
         "layer": [
          {"data": {"name": "p3"}, "mark": {"type": "area", "color": "#cccccc", "clip": true},
           "encoding": {
            "x": {"field": "x", "type": "quantitative", "scale": {"domain": [-1.2, 3.18], "nice": false, "zero": false},
              "axis": {"orient": "bottom", "values": [-1,0,1,2,3], "format": "d", "tickSize": -7, "labelPadding": 13, "labelFontSize": 17, "title": "log⟨U⟩", "titleFontSize": 21, "titlePadding": 3, "zindex": 1}},
            "y": {"field": "y", "type": "quantitative", "scale": {"domain": [0, 1], "nice": false},
              "axis": {"orient": "left", "values": [0.12,0.24,0.36,0.48,0.6,0.72,0.84,0.96], "labels": false, "tickSize": -7, "title": null, "zindex": 1}}}},
          {"data": {"name": "p3"}, "mark": {"type": "bar", "color": "#636363", "size": 6.2, "orient": "vertical", "clip": true},
           "encoding": {
            "x": {"field": "x", "type": "quantitative", "axis": {"orient": "bottom", "values": [-0.8,-0.6,-0.4,-0.2,0.2,0.4,0.6,0.8,1.2,1.4,1.6,1.8,2.2,2.4,2.6,2.8], "labels": false, "title": null, "tickSize": -4, "zindex": 1}},
            "y": {"field": "y", "type": "quantitative", "axis": {"orient": "right", "values": [0.12,0.24,0.36,0.48,0.6,0.72,0.84,0.96], "labels": false, "title": null, "tickSize": -7, "zindex": 1}}}},
          {"data": {"values": [{"lo": 1.366, "hi": 1.855}]}, "mark": {"type": "rect", "color": "#ff0000", "opacity": 0.2},
           "encoding": {
            "x": {"field": "lo", "type": "quantitative", "axis": {"orient": "top", "values": [-1,-0.8,-0.6,-0.4,-0.2,0,0.2,0.4,0.6,0.8,1,1.2,1.4,1.6,1.8,2,2.2,2.4,2.6,2.8,3], "labels": false, "title": null, "tickSize": -6, "zindex": 1}},
            "x2": {"field": "hi"},
            "y": {"datum": 0, "type": "quantitative", "axis": null}, "y2": {"datum": 1}}}
         ],
         "resolve": {"axis": {"x": "independent", "y": "independent"}}}
      ], "spacing": 19, "bounds": "flush"},
      {"hconcat": [
        {"width": 392, "height": 156,
         "layer": [
          {"data": {"name": "p4"}, "mark": {"type": "area", "color": "#cccccc", "clip": true},
           "encoding": {
            "x": {"field": "x", "type": "quantitative", "scale": {"domain": [6.07, 10.85], "nice": false, "zero": false},
              "axis": {"orient": "bottom", "values": [7,8,9,10], "format": "d", "tickSize": -7, "labelPadding": 13, "labelFontSize": 17, "title": "log(Mdust/M⊙)", "titleFontSize": 21, "titlePadding": 3, "zindex": 1}},
            "y": {"field": "y", "type": "quantitative", "scale": {"domain": [0, 1], "nice": false},
              "axis": {"orient": "left", "values": [0.12,0.24,0.36,0.48,0.6,0.72,0.84,0.96], "labels": false, "tickSize": -7, "title": "∑ 1/χ²", "titleFont": "DejaVu Sans", "titleFontSize": 25, "titlePadding": 6, "zindex": 1}}}},
          {"data": {"name": "p4"}, "mark": {"type": "bar", "color": "#636363", "size": 6.3, "orient": "vertical", "clip": true},
           "encoding": {
            "x": {"field": "x", "type": "quantitative", "axis": {"orient": "bottom", "values": [6.2,6.4,6.6,6.8,7.2,7.4,7.6,7.8,8.2,8.4,8.6,8.8,9.2,9.4,9.6,9.8,10.2,10.4,10.6,10.8], "labels": false, "title": null, "tickSize": -4, "zindex": 1}},
            "y": {"field": "y", "type": "quantitative", "axis": {"orient": "right", "values": [0.12,0.24,0.36,0.48,0.6,0.72,0.84,0.96], "labels": false, "title": null, "tickSize": -7, "zindex": 1}}}},
          {"data": {"values": [{"lo": 8.325, "hi": 8.715}]}, "mark": {"type": "rect", "color": "#ff0000", "opacity": 0.2},
           "encoding": {
            "x": {"field": "lo", "type": "quantitative", "axis": {"orient": "top", "values": [6.2,6.4,6.6,6.8,7,7.2,7.4,7.6,7.8,8,8.2,8.4,8.6,8.8,9,9.2,9.4,9.6,9.8,10,10.2,10.4,10.6,10.8], "labels": false, "title": null, "tickSize": -6, "zindex": 1}},
            "x2": {"field": "hi"},
            "y": {"datum": 0, "type": "quantitative", "axis": null}, "y2": {"datum": 1}}}
         ],
         "resolve": {"axis": {"x": "independent", "y": "independent"}}},
        {"width": 392, "height": 156,
         "layer": [
          {"data": {"name": "p5"}, "mark": {"type": "area", "color": "#cccccc", "clip": true},
           "encoding": {
            "x": {"field": "x", "type": "quantitative", "scale": {"domain": [5.75, 10.84], "nice": false, "zero": false},
              "axis": {"orient": "bottom", "values": [6,7,8,9,10], "format": "d", "tickSize": -7, "labelPadding": 13, "labelFontSize": 17, "title": "log(Mdust, cold/M⊙)", "titleFontSize": 21, "titlePadding": 3, "zindex": 1}},
            "y": {"field": "y", "type": "quantitative", "scale": {"domain": [0, 1], "nice": false},
              "axis": {"orient": "left", "values": [0.12,0.24,0.36,0.48,0.6,0.72,0.84,0.96], "labels": false, "tickSize": -7, "title": null, "zindex": 1}}}},
          {"data": {"name": "p5"}, "mark": {"type": "bar", "color": "#636363", "size": 5.2, "orient": "vertical", "clip": true},
           "encoding": {
            "x": {"field": "x", "type": "quantitative", "axis": {"orient": "bottom", "values": [5.8,6.2,6.4,6.6,6.8,7.2,7.4,7.6,7.8,8.2,8.4,8.6,8.8,9.2,9.4,9.6,9.8,10.2,10.4,10.6,10.8], "labels": false, "title": null, "tickSize": -4, "zindex": 1}},
            "y": {"field": "y", "type": "quantitative", "axis": {"orient": "right", "values": [0.12,0.24,0.36,0.48,0.6,0.72,0.84,0.96], "labels": false, "title": null, "tickSize": -7, "zindex": 1}}}},
          {"data": {"values": [{"lo": 8.35, "hi": 8.75}]}, "mark": {"type": "rect", "color": "#ff0000", "opacity": 0.2},
           "encoding": {
            "x": {"field": "lo", "type": "quantitative", "axis": {"orient": "top", "values": [5.8,6,6.2,6.4,6.6,6.8,7,7.2,7.4,7.6,7.8,8,8.2,8.4,8.6,8.8,9,9.2,9.4,9.6,9.8,10,10.2,10.4,10.6,10.8], "labels": false, "title": null, "tickSize": -6, "zindex": 1}},
            "x2": {"field": "hi"},
            "y": {"datum": 0, "type": "quantitative", "axis": null}, "y2": {"datum": 1}}}
         ],
         "resolve": {"axis": {"x": "independent", "y": "independent"}}},
        {"width": 392, "height": 156,
         "layer": [
          {"data": {"name": "p6"}, "mark": {"type": "area", "color": "#cccccc", "clip": true},
           "encoding": {
            "x": {"field": "x", "type": "quantitative", "scale": {"domain": [5.0, 10.0], "nice": false, "zero": false},
              "axis": {"orient": "bottom", "values": [5,6,7,8,9,10], "format": "d", "tickSize": -7, "labelPadding": 13, "labelFontSize": 17, "title": "log(Mdust, warm/M⊙)", "titleFontSize": 21, "titlePadding": 3, "zindex": 1}},
            "y": {"field": "y", "type": "quantitative", "scale": {"domain": [0, 1], "nice": false},
              "axis": {"orient": "left", "values": [0.12,0.24,0.36,0.48,0.6,0.72,0.84,0.96], "labels": false, "tickSize": -7, "title": null, "zindex": 1}}}},
          {"data": {"name": "p6"}, "mark": {"type": "bar", "color": "#636363", "size": 7.0, "orient": "vertical", "clip": true},
           "encoding": {
            "x": {"field": "x", "type": "quantitative", "axis": {"orient": "bottom", "values": [5.2,5.4,5.6,5.8,6.2,6.4,6.6,6.8,7.2,7.4,7.6,7.8,8.2,8.4,8.6,8.8,9.2,9.4,9.6,9.8], "labels": false, "title": null, "tickSize": -4, "zindex": 1}},
            "y": {"field": "y", "type": "quantitative", "axis": {"orient": "right", "values": [0.12,0.24,0.36,0.48,0.6,0.72,0.84,0.96], "labels": false, "title": null, "tickSize": -7, "zindex": 1}}}},
          {"data": {"values": [{"lo": 5.345, "hi": 7.0}]}, "mark": {"type": "rect", "color": "#ff0000", "opacity": 0.2},
           "encoding": {
            "x": {"field": "lo", "type": "quantitative", "axis": {"orient": "top", "values": [5.2,5.4,5.6,5.8,6,6.2,6.4,6.6,6.8,7,7.2,7.4,7.6,7.8,8,8.2,8.4,8.6,8.8,9,9.2,9.4,9.6,9.8], "labels": false, "title": null, "tickSize": -6, "zindex": 1}},
            "x2": {"field": "hi"},
            "y": {"datum": 0, "type": "quantitative", "axis": null}, "y2": {"datum": 1}}}
         ],
         "resolve": {"axis": {"x": "independent", "y": "independent"}}}
      ], "spacing": 19, "bounds": "flush"},
      {"hconcat": [
        {"width": 392, "height": 156,
         "layer": [
          {"data": {"name": "p7"}, "mark": {"type": "area", "color": "#cccccc", "clip": true},
           "encoding": {
            "x": {"field": "x", "type": "quantitative", "scale": {"domain": [-0.024, 0.594], "nice": false, "zero": false},
              "axis": {"orient": "bottom", "values": [0,0.1,0.2,0.3,0.4,0.5], "format": ".1f", "tickSize": -7, "labelPadding": 13, "labelFontSize": 17, "title": "fAGN", "titleFont": "DejaVu Sans", "titleFontSize": 21, "titlePadding": 3, "zindex": 1}},
            "y": {"field": "y", "type": "quantitative", "scale": {"domain": [0, 1], "nice": false},
              "axis": {"orient": "left", "values": [0.12,0.24,0.36,0.48,0.6,0.72,0.84,0.96], "labels": false, "tickSize": -7, "title": "∑ 1/χ²", "titleFont": "DejaVu Sans", "titleFontSize": 25, "titlePadding": 6, "zindex": 1}}}},
          {"data": {"name": "p7"}, "mark": {"type": "bar", "color": "#636363", "size": 4.3, "orient": "vertical", "clip": true},
           "encoding": {
            "x": {"field": "x", "type": "quantitative", "axis": {"orient": "bottom", "values": [-0.02,0.02,0.04,0.06,0.08,0.12,0.14,0.16,0.18,0.22,0.24,0.26,0.28,0.32,0.34,0.36,0.38,0.42,0.44,0.46,0.48,0.52,0.54,0.56,0.58], "labels": false, "title": null, "tickSize": -4, "zindex": 1}},
            "y": {"field": "y", "type": "quantitative", "axis": {"orient": "right", "values": [0.12,0.24,0.36,0.48,0.6,0.72,0.84,0.96], "labels": false, "title": null, "tickSize": -7, "zindex": 1}}}},
          {"data": {"values": [{"lo": 0.0097, "hi": 0.0795}]}, "mark": {"type": "rect", "color": "#ff0000", "opacity": 0.2},
           "encoding": {
            "x": {"field": "lo", "type": "quantitative", "axis": {"orient": "top", "values": [-0.02,0,0.02,0.04,0.06,0.08,0.1,0.12,0.14,0.16,0.18,0.2,0.22,0.24,0.26,0.28,0.3,0.32,0.34,0.36,0.38,0.4,0.42,0.44,0.46,0.48,0.5,0.52,0.54,0.56,0.58], "labels": false, "title": null, "tickSize": -6, "zindex": 1}},
            "x2": {"field": "hi"},
            "y": {"datum": 0, "type": "quantitative", "axis": null}, "y2": {"datum": 1}}}
         ],
         "resolve": {"axis": {"x": "independent", "y": "independent"}}},
        {"width": 392, "height": 156,
         "layer": [
          {"data": {"name": "p8"}, "mark": {"type": "area", "color": "#cccccc", "clip": true},
           "encoding": {
            "x": {"field": "x", "type": "quantitative", "scale": {"domain": [10.09, 12.3], "nice": false, "zero": false},
              "axis": {"orient": "bottom", "values": [10.5,11.0,11.5,12.0], "format": ".1f", "tickSize": -7, "labelPadding": 13, "labelFontSize": 17, "title": "log(LIR, cold/L⊙)", "titleFontSize": 21, "titlePadding": 3, "zindex": 1}},
            "y": {"field": "y", "type": "quantitative", "scale": {"domain": [0, 1], "nice": false},
              "axis": {"orient": "left", "values": [0.12,0.24,0.36,0.48,0.6,0.72,0.84,0.96], "labels": false, "tickSize": -7, "title": null, "zindex": 1}}}},
          {"data": {"name": "p8"}, "mark": {"type": "bar", "color": "#636363", "size": 2.9, "orient": "vertical", "clip": true},
           "encoding": {
            "x": {"field": "x", "type": "quantitative", "axis": {"orient": "bottom", "values": [10.1,10.2,10.3,10.4,10.6,10.7,10.8,10.9,11.1,11.2,11.3,11.4,11.6,11.7,11.8,11.9,12.1,12.2,12.3], "labels": false, "title": null, "tickSize": -4, "zindex": 1}},
            "y": {"field": "y", "type": "quantitative", "axis": {"orient": "right", "values": [0.12,0.24,0.36,0.48,0.6,0.72,0.84,0.96], "labels": false, "title": null, "tickSize": -7, "zindex": 1}}}},
          {"data": {"values": [{"lo": 12.078, "hi": 12.228}]}, "mark": {"type": "rect", "color": "#ff0000", "opacity": 0.2},
           "encoding": {
            "x": {"field": "lo", "type": "quantitative", "axis": {"orient": "top", "values": [10.1,10.2,10.3,10.4,10.5,10.6,10.7,10.8,10.9,11.0,11.1,11.2,11.3,11.4,11.5,11.6,11.7,11.8,11.9,12.0,12.1,12.2,12.3], "labels": false, "title": null, "tickSize": -6, "zindex": 1}},
            "x2": {"field": "hi"},
            "y": {"datum": 0, "type": "quantitative", "axis": null}, "y2": {"datum": 1}}}
         ],
         "resolve": {"axis": {"x": "independent", "y": "independent"}}},
        {"width": 392, "height": 156,
         "layer": [
          {"data": {"name": "p9"}, "mark": {"type": "area", "color": "#cccccc", "clip": true},
           "encoding": {
            "x": {"field": "x", "type": "quantitative", "scale": {"domain": [8.98, 12.15], "nice": false, "zero": false},
              "axis": {"orient": "bottom", "values": [9.0,9.5,10.0,10.5,11.0,11.5,12.0], "format": ".1f", "tickSize": -7, "labelPadding": 13, "labelFontSize": 17, "title": "log(LIR, warm/L⊙)", "titleFontSize": 21, "titlePadding": 3, "zindex": 1}},
            "y": {"field": "y", "type": "quantitative", "scale": {"domain": [0, 1], "nice": false},
              "axis": {"orient": "left", "values": [0.12,0.24,0.36,0.48,0.6,0.72,0.84,0.96], "labels": false, "tickSize": -7, "title": null, "zindex": 1}}}},
          {"data": {"name": "p9"}, "mark": {"type": "bar", "color": "#636363", "size": 4.3, "orient": "vertical", "clip": true},
           "encoding": {
            "x": {"field": "x", "type": "quantitative", "axis": {"orient": "bottom", "values": [9.1,9.2,9.3,9.4,9.6,9.7,9.8,9.9,10.1,10.2,10.3,10.4,10.6,10.7,10.8,10.9,11.1,11.2,11.3,11.4,11.6,11.7,11.8,11.9,12.1], "labels": false, "title": null, "tickSize": -4, "zindex": 1}},
            "y": {"field": "y", "type": "quantitative", "axis": {"orient": "right", "values": [0.12,0.24,0.36,0.48,0.6,0.72,0.84,0.96], "labels": false, "title": null, "tickSize": -7, "zindex": 1}}}},
          {"data": {"values": [{"lo": 10.065, "hi": 11.415}]}, "mark": {"type": "rect", "color": "#ff0000", "opacity": 0.2},
           "encoding": {
            "x": {"field": "lo", "type": "quantitative", "axis": {"orient": "top", "values": [9.0,9.1,9.2,9.3,9.4,9.5,9.6,9.7,9.8,9.9,10.0,10.1,10.2,10.3,10.4,10.5,10.6,10.7,10.8,10.9,11.0,11.1,11.2,11.3,11.4,11.5,11.6,11.7,11.8,11.9,12.0,12.1], "labels": false, "title": null, "tickSize": -6, "zindex": 1}},
            "x2": {"field": "hi"},
            "y": {"datum": 0, "type": "quantitative", "axis": null}, "y2": {"datum": 1}}}
         ],
         "resolve": {"axis": {"x": "independent", "y": "independent"}}}
      ], "spacing": 19, "bounds": "flush"}
    ]
  }
]
}
